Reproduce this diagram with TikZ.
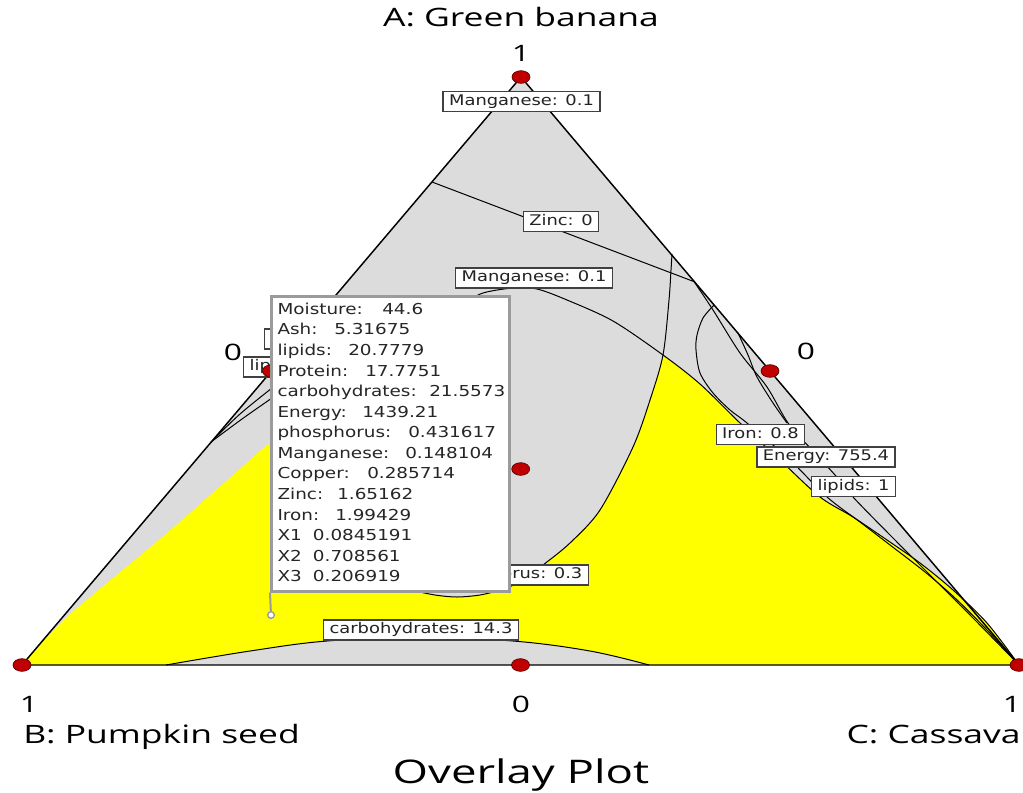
\documentclass[tikz,border=0pt]{standalone}
\usepackage{fontspec}
\usetikzlibrary{shapes.geometric}
\newfontfamily\labfont[FakeStretch=1.22]{DejaVu Sans}
\newfontfamily\axfont[FakeStretch=1.4]{Open Sans}
\definecolor{plotgray}{RGB}{220,220,220}
\definecolor{plotyellow}{RGB}{255,255,0}
\definecolor{dotred}{RGB}{192,0,0}
\definecolor{dotedge}{RGB}{90,0,0}
\definecolor{tipgray}{RGB}{155,155,155}
\definecolor{labtext}{RGB}{35,35,35}
\begin{document}
\begin{tikzpicture}[x=0.75pt,y=-0.75pt,
  lab/.style={draw=black!75, line width=1pt, fill=white, text=labtext,
    font=\labfont\fontsize{11pt}{12pt}\selectfont,
    inner xsep=4.5pt, inner ysep=0pt, minimum height=15pt, text height=8.2pt, text depth=2.3pt},
  contour/.style={draw=black, line width=0.75pt},
  edge/.style={draw=black, line width=1.1pt},
  dot/.style={ellipse, fill=dotred, draw=dotedge, line width=0.5pt, minimum width=13.5pt, minimum height=9.5pt, inner sep=0pt},
  num/.style={font=\axfont\fontsize{17pt}{20pt}\selectfont, inner sep=0pt},
  axlab/.style={font=\axfont\fontsize{19pt}{22pt}\selectfont, inner sep=0pt},
  tipline/.style={anchor=base west, inner sep=0pt, text=black!85, font=\labfont\fontsize{11.3pt}{13pt}\selectfont}
]
\useasboundingbox (0,0) rectangle (1023,792);

% vertices
\coordinate (A) at (521,77);
\coordinate (B) at (22,665);
\coordinate (C) at (1019,665);

% gray triangle
\fill[plotgray] (A) -- (B) -- (C) -- cycle;

% yellow feasible region
\fill[plotyellow] (22,665) -- (166,665)
  -- plot[smooth, tension=0.6] coordinates {(166,665) (250,651) (327,641) (420,637.5) (513,641) (590,651) (649,665)}
  -- (1019,665)
  -- plot[smooth] coordinates {(1019,665) (987,623) (953,590) (920,563) (887,540) (853,517) (820,497) (780,460) (740,423) (700,384) (663,355)}
  -- plot[smooth] coordinates {(663,355) (650,400) (633,447) (600,510) (570,543) (543,565) (520,582) (500,590) (480,595) (457,597) (435,595) (413,590) (380,575) (330,530) (290,475) (268,444)}
  -- plot[smooth] coordinates {(268,444) (167,533) (67,617) (22,665)}
  -- cycle;

% contour lines
\draw[contour] plot[smooth, tension=0.6] coordinates {(166,665) (250,651) (327,641) (420,637.5) (513,641) (590,651) (649,665)};
\draw[contour] (432,182) -- (695,282);
\draw[contour] plot[smooth] coordinates {(462,304) (483,293) (513,288) (537,289) (567,300) (613,321) (663,355) (700,384) (740,423) (780,460) (820,497) (853,517) (887,540) (920,563) (953,590) (987,623) (1019,665)};
\draw[contour] plot[smooth] coordinates {(672,254) (671,270) (669,300) (663,355) (650,400) (633,447) (600,510) (570,543) (543,565) (520,582) (500,590) (480,595) (457,597) (435,595) (413,590) (390,580)};
\draw[contour] plot[smooth] coordinates {(714,305) (703,318) (697,335) (696,350) (700,373) (713,393) (730,410) (747,423) (790,460) (827,497) (860,522) (890,545) (925,572) (955,598) (987,630) (1019,665)};
\draw[contour] plot[smooth] coordinates {(693,280) (713,310) (740,353) (767,387) (788,423) (812,450) (835,475) (853,497) (890,535) (930,575) (975,620) (1019,665)};
\draw[contour] plot[smooth] coordinates {(738,333) (748,355) (757,377) (773,403) (787,423)};
\draw[contour] plot[smooth] coordinates {(211,442) (240,414) (272,388)};
\draw[contour] plot[smooth] coordinates {(211,442) (242,419) (272,398)};

% triangle edges
\draw[edge] (A) -- (B) -- (C) -- cycle;

% contour labels
\node[lab] (mn1) at (521.5,101.5) {Manganese: 0.1};
\node[lab] (zn) at (561,221.5) {Zinc: 0};
\node[lab] (mn2) at (534,278) {Manganese: 0.1};
\node[lab] (fe) at (760.5,434.5) {Iron: 0.8};
\node[lab] (en) at (826,457) {Energy: 755.4};
\node[lab] (lp) at (853.5,486.5) {lipids: 1};
\node[lab, anchor=east] (ph) at (589,575) {phosphorus: 0.3};
\node[lab] (cb) at (421,630) {carbohydrates: 14.3};
\node[lab, anchor=west, text width=45pt, align=left] (lp2) at (243,367) {lip};
\node[lab, anchor=west, minimum width=45pt] (hid) at (264,339) {};

% design points
\node[dot] (dA) at (A) {};
\node[dot] (dB) at (B) {};
\node[dot] (dC) at (C) {};
\node[dot] (dAB) at (271.5,371) {};
\node[dot] (dAC) at (770,371) {};
\node[dot] (dBC) at (520.5,665) {};
\node[dot] (dc) at (520.7,469) {};

% axis texts
\node[axlab, anchor=base] (tA) at (521,27) {A: Green banana};
\node[num, anchor=base] (n1) at (521,61) {1};
\node[num, anchor=base] (n2) at (233,360) {0};
\node[num, anchor=base] (n3) at (806,359) {0};
\node[num, anchor=base] (n4) at (29,712) {1};
\node[num, anchor=base] (n5) at (521,712) {0};
\node[num, anchor=base] (n6) at (1012,712) {1};
\node[axlab, anchor=base west] (tB) at (23,743) {B: Pumpkin seed};
\node[axlab, anchor=base east] (tC) at (1021,743) {C: Cassava};
\node[font=\axfont\fontsize{24.4pt}{28pt}\selectfont, inner sep=0pt, anchor=base] (title) at (521,783) {Overlay Plot};

% tooltip
\node[draw=tipgray, line width=1.9pt, fill=white, anchor=north west, minimum width=178.5pt, minimum height=221.25pt, inner sep=0pt] (tip) at (270,295) {};
\coordinate (pin) at (271,615);
\draw[tipgray, line width=1.5pt] (tip.south west) -- (pin);
\node[circle, draw=tipgray, fill=white, line width=1pt, inner sep=0pt, minimum size=5pt] (pinc) at (pin) {};
\foreach \l/\v/\x [count=\i from 0] in {Moisture:/44.6/382, Ash:/5.31675/334, lipids:/20.7779/348, Protein:/17.7751/365, carbohydrates:/21.5573/429, Energy:/1439.21/362, phosphorus:/0.431617/408, Manganese:/0.148104/405, Copper:/0.285714/367, Zinc:/1.65162/337, Iron:/1.99429/335, X1/0.0845191/312.7, X2/0.708561/312.7, X3/0.206919/312.7}
{
  \node[tipline] (tl\i) at (277.3,314.3+20.57*\i) {\l};
  \node[tipline] (tv\i) at (\x,314.3+20.57*\i) {\v};
}
\end{tikzpicture}
\end{document}
